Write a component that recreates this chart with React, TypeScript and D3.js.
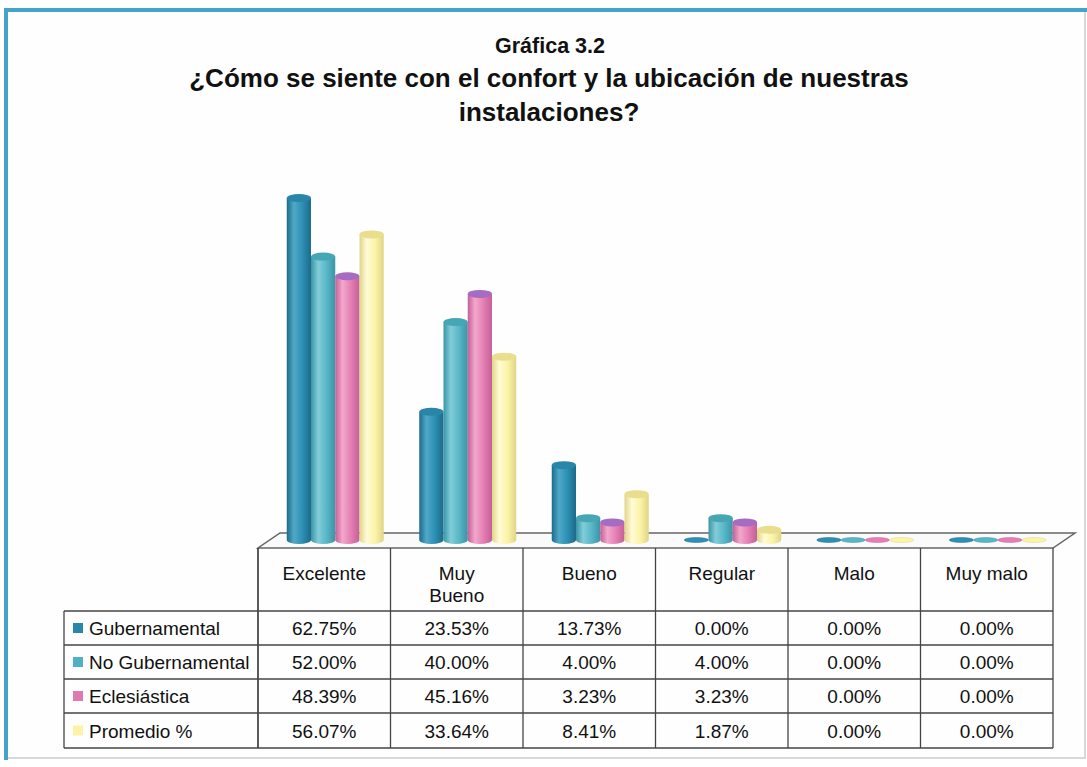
import React from "react";
import * as d3 from "d3";

const categories = ["Excelente", "Muy Bueno", "Bueno", "Regular", "Malo", "Muy malo"];
const headerLines = [["Excelente"], ["Muy", "Bueno"], ["Bueno"], ["Regular"], ["Malo"], ["Muy malo"]];
const seriesNames = ["Gubernamental", "No Gubernamental", "Eclesiástica", "Promedio %"];
const gubernamental = [62.75, 23.53, 13.73, 0, 0, 0];
const noGubernamental = [52.0, 40.0, 4.0, 4.0, 0, 0];
const eclesiastica = [48.39, 45.16, 3.23, 3.23, 0, 0];
const promedio = [56.07, 33.64, 8.41, 1.87, 0, 0];
const seriesValues = [gubernamental, noGubernamental, eclesiastica, promedio];

const palette = [
  { base: "#2c8fb3", dark: "#1d6a8a", light: "#4fa9c8", top: "#2a86a8", key: "#2a86aa" },
  { base: "#58b6c6", dark: "#3a95a6", light: "#82cdd9", top: "#46a6b4", key: "#4fb0c6" },
  { base: "#e47fb4", dark: "#c45f98", light: "#f2a8cb", top: "#a66cc2", key: "#e07aae" },
  { base: "#fbf3a6", dark: "#e0d586", light: "#fffbd6", top: "#e9dd8e", key: "#fbf3a6" },
];

const W = 1087;
const H = 767;
const tableLeft = 258;
const tableRight = 1053;
const labelLeft = 64;
const headerTop = 548;
const rowLines = [611, 645, 679, 713, 748];
const floorY = 540;
const depthDx = 22;
const depthDy = -15;

export default function App() {
  const x = d3.scaleBand<string>().domain(categories).range([tableLeft, tableRight]);
  const inner = d3.scaleBand<number>().domain([0, 1, 2, 3]).range([0, 97]).padding(0);
  const y = d3.scaleLinear().domain([0, 70]).range([floorY, floorY - 70 * 5.45]);
  const fmt = (v: number) => d3.format(".2f")(v) + "%";
  const ry = 4;
  const font = "'Liberation Sans', Arial, sans-serif";
  const fs = 19;

  return (
    <svg width={W} height={H} style={{ position: "absolute", left: 0, top: 0, background: "#fff" }}>
      <defs>
        {palette.map((p, i) => (
          <linearGradient key={i} id={`g${i}`} x1="0" x2="1" y1="0" y2="0">
            <stop offset="0" stopColor={p.dark} />
            <stop offset="0.3" stopColor={p.light} />
            <stop offset="0.65" stopColor={p.base} />
            <stop offset="1" stopColor={p.dark} />
          </linearGradient>
        ))}
      </defs>
      {/* frame */}
      <rect x={5} y={9} width={1080} height={749} fill="#fefefe" stroke="#d8d8d8" strokeWidth={2} />
      <line x1={4} y1={10} x2={1087} y2={10} stroke="#45a3cb" strokeWidth={4} />
      <line x1={6} y1={8} x2={6} y2={760} stroke="#45a3cb" strokeWidth={4} />

      {/* titles */}
      <text x={550} y={53} textAnchor="middle" fontFamily={font} fontWeight="bold" fontSize={21.5} fill="#111">
        Gráfica 3.2
      </text>
      <text x={549} y={87} textAnchor="middle" fontFamily={font} fontWeight="bold" fontSize={26} fill="#111">
        ¿Cómo se siente con el confort y la ubicación de nuestras
      </text>
      <text x={549} y={121} textAnchor="middle" fontFamily={font} fontWeight="bold" fontSize={26} fill="#111">
        instalaciones?
      </text>

      {/* floor */}
      <path
        d={`M${tableLeft},${headerTop} L${tableRight},${headerTop} L${tableRight + depthDx},${headerTop + depthDy} L${tableLeft + depthDx},${headerTop + depthDy} Z`}
        fill="#fafafa"
        stroke="#666"
        strokeWidth={1.5}
      />

      {/* bars */}
      {categories.map((c, ci) => {
        const gx = (x(c) as number) + x.bandwidth() / 2 + depthDx / 2 - 48.5;
        return (
          <g key={c}>
            {seriesValues.map((vals, si) => {
              const v = vals[ci];
              const bx = gx + (inner(si) as number);
              const bw = inner.bandwidth();
              const cx = bx + bw / 2;
              const p = palette[si];
              if (v === 0) {
                return <ellipse key={si} cx={cx} cy={floorY} rx={bw / 2} ry={2.5} fill={p.base} stroke={p.dark} strokeWidth={0.5} />;
              }
              const top = y(v);
              return (
                <g key={si}>
                  <path
                    d={`M${bx},${top} L${bx},${floorY} A${bw / 2},${ry} 0 0 0 ${bx + bw},${floorY} L${bx + bw},${top} Z`}
                    fill={`url(#g${si})`}
                  />
                  <ellipse cx={cx} cy={top} rx={bw / 2} ry={ry} fill={p.top} />
                </g>
              );
            })}
          </g>
        );
      })}

      {/* table */}
      <g stroke="#444" strokeWidth={1.3} fill="none">
        <line x1={tableLeft} y1={headerTop} x2={tableLeft} y2={rowLines[4]} />
        <line x1={tableRight} y1={headerTop} x2={tableRight} y2={rowLines[4]} />
        {categories.map((c) => (
          <line key={c} x1={x(c) as number} y1={headerTop} x2={x(c) as number} y2={rowLines[4]} />
        ))}
        <line x1={labelLeft} y1={rowLines[0]} x2={labelLeft} y2={rowLines[4]} />
        {rowLines.map((ly, i) => (
          <line key={i} x1={labelLeft} y1={ly} x2={tableRight} y2={ly} />
        ))}
      </g>
      {categories.map((c, ci) => (
        <text key={c} x={(x(c) as number) + x.bandwidth() / 2} y={580} textAnchor="middle" fontFamily={font} fontSize={fs} fill="#111">
          {headerLines[ci].map((l, li) => (
            <tspan key={li} x={(x(c) as number) + x.bandwidth() / 2} dy={li === 0 ? 0 : 22}>
              {l}
            </tspan>
          ))}
        </text>
      ))}
      {seriesNames.map((s, si) => {
        const cy = (rowLines[si] + rowLines[si + 1]) / 2;
        return (
          <g key={s}>
            <rect x={73} y={cy - 5} width={10} height={10} fill={palette[si].key} />
            <text x={89} y={cy + 7} fontFamily={font} fontSize={fs} fill="#111">
              {s}
            </text>
            {seriesValues[si].map((v, ci) => (
              <text key={ci} x={(x(categories[ci]) as number) + x.bandwidth() / 2} y={cy + 7} textAnchor="middle" fontFamily={font} fontSize={fs} fill="#111">
                {fmt(v)}
              </text>
            ))}
          </g>
        );
      })}
    </svg>
  );
}
